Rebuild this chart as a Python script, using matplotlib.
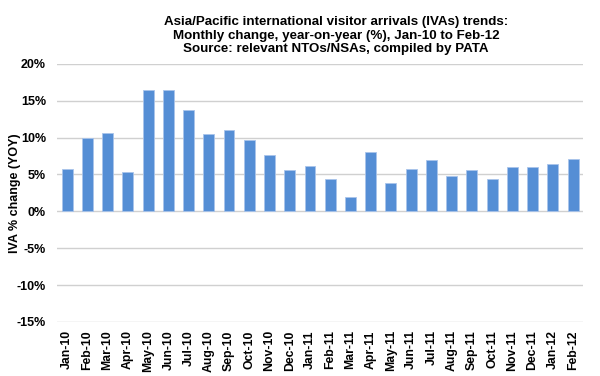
import numpy as np
import matplotlib.pyplot as plt

plt.rcParams['font.family'] = ['Liberation Sans', 'DejaVu Sans']

# datos
meses = ['Jan-10', 'Feb-10', 'Mar-10', 'Apr-10', 'May-10', 'Jun-10', 'Jul-10',
         'Aug-10', 'Sep-10', 'Oct-10', 'Nov-10', 'Dec-10', 'Jan-11', 'Feb-11',
         'Mar-11', 'Apr-11', 'May-11', 'Jun-11', 'Jul-11', 'Aug-11', 'Sep-11',
         'Oct-11', 'Nov-11', 'Dec-11', 'Jan-12', 'Feb-12']
cambio = [5.8, 10.0, 10.6, 5.3, 16.5, 16.5, 13.7, 10.5, 11.0, 9.7, 7.6, 5.6,
          6.2, 4.4, 2.0, 8.0, 3.8, 5.7, 7.0, 4.8, 5.6, 4.4, 6.0, 6.0, 6.4, 7.1]
yticks = [-15, -10, -5, 0, 5, 10, 15, 20]

fig = plt.figure(figsize=(6, 3.76), dpi=100)
ax = fig.add_axes([0.095, 0.144, 0.877, 0.686])

x = np.arange(len(meses))
ax.bar(x, cambio, width=0.54, color='#558ED5', edgecolor='#A9C4EB', linewidth=0.6, zorder=3)

ax.set_xlim(-0.5, len(meses) - 0.5)
ax.set_ylim(-15, 20)
ax.set_yticks(yticks)
ax.set_yticklabels([str(t) + '%' for t in yticks], fontsize=9, fontweight='bold')
ax.set_xticks(x)
ax.set_xticklabels(meses, rotation=90, fontsize=8.8, fontweight='bold')
ax.tick_params(axis='y', length=0, pad=8)
ax.tick_params(axis='x', length=0, pad=6)
ax.grid(axis='y', color='#D0D0D0', linewidth=1, zorder=0)
for s in ax.spines.values():
    s.set_visible(False)

ax.set_ylabel('IVA % change (YOY)', fontsize=9, fontweight='bold')
ax.yaxis.set_label_coords(-0.069, 0.5)

fig.text(0.56, 0.957, 'Asia/Pacific international visitor arrivals (IVAs) trends:\n'
         'Monthly change, year-on-year (%), Jan-10 to Feb-12\n'
         'Source: relevant NTOs/NSAs, compiled by PATA',
         ha='center', va='top', fontsize=9.6, fontweight='bold', linespacing=1.15)

plt.savefig('out.png', dpi=100)
